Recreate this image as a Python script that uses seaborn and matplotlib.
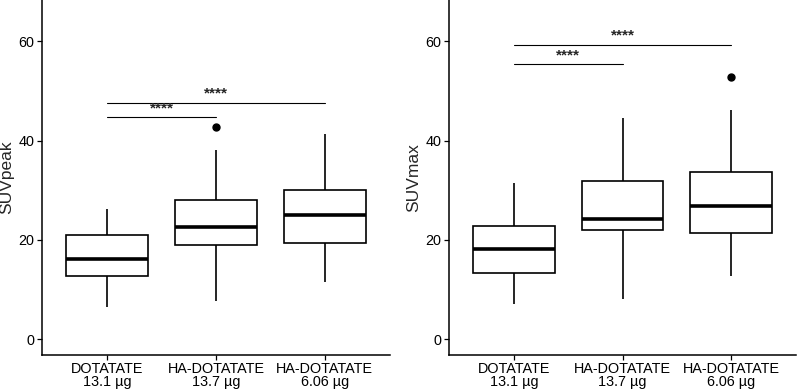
import numpy as np
import pandas as pd
import seaborn as sns
import matplotlib
matplotlib.use("Agg")
import matplotlib.pyplot as plt

# groups (x categories)
groups = ["DOTATATE\n13.1 µg", "HA-DOTATATE\n13.7 µg", "HA-DOTATATE\n6.06 µg"]

suvpeak_dotatate = [6.4, 10.5, 12.8, 14.5, 16.1, 18.5, 20.9, 23.5, 26.2]
suvpeak_ha137 = [7.6, 14.0, 18.95, 20.5, 22.5, 25.0, 27.95, 38.1, 42.7]
suvpeak_ha606 = [11.6, 16.0, 19.35, 22.0, 25.05, 27.5, 30.1, 35.0, 41.25]

# SUVmax samples per group
suvmax_dotatate = [7.1, 10.5, 13.4, 16.0, 18.2, 20.5, 22.85, 27.0, 31.45]
suvmax_ha137 = [8.05, 15.0, 21.9, 23.0, 24.25, 28.0, 31.8, 38.0, 44.55]
suvmax_ha606 = [12.7, 17.0, 21.3, 24.0, 26.9, 30.0, 33.7, 46.2, 52.8]

# significance brackets: (group a, group b, y, label)
peak_brackets = [(0, 1, 44.7, "****"), (0, 2, 47.6, "****")]
max_brackets = [(0, 1, 55.4, "****"), (0, 2, 59.3, "****")]


def make_df(values_list):
    rows = []
    for g, vals in zip(groups, values_list):
        for v in vals:
            rows.append({"group": g, "value": v})
    return pd.DataFrame(rows)


def draw_panel(ax, df, ylabel, brackets):
    sns.boxplot(data=df, x="group", y="value", order=groups, ax=ax,
                color="white", linecolor="black", linewidth=1.2, width=0.75,
                whis=1.5, showcaps=False,
                medianprops={"linewidth": 2.6, "color": "black"},
                flierprops={"marker": "o", "markerfacecolor": "black",
                            "markeredgecolor": "black", "markersize": 5})
    for a, b, y, lab in brackets:
        ax.plot([a, b], [y, y], color="black", lw=0.8)
        ax.text((a + b) / 2, y + 0.4, lab, ha="center", va="bottom",
                fontsize=11, fontweight="bold")
    ax.set_xlim(-0.6, 2.6)
    ax.set_ylim(-3.2, 68.3)
    ax.set_yticks([0, 20, 40, 60])
    ax.set_xlabel("")
    ax.set_ylabel(ylabel, fontsize=12.5, labelpad=3)
    for s in ["top", "right"]:
        ax.spines[s].set_visible(False)
    for s in ["left", "bottom"]:
        ax.spines[s].set_linewidth(1.1)
        ax.spines[s].set_color("black")
    ax.tick_params(axis="both", bottom=True, left=True, length=3.5, width=0.9,
                   color="black", labelsize=10.4, labelcolor="black", pad=2)
    ax.tick_params(axis="x", pad=1.5)
    for lab in ax.get_xticklabels():
        lab.set_linespacing(0.92)


sns.set_theme(style="white")
plt.rcParams["font.family"] = ["Liberation Sans", "DejaVu Sans"]

fig = plt.figure(figsize=(7.97, 3.91), dpi=100)
ax1 = fig.add_axes([42 / 797, 36 / 391, 348 / 797, 355 / 391])
ax2 = fig.add_axes([449 / 797, 36 / 391, 347 / 797, 355 / 391])

draw_panel(ax1, make_df([suvpeak_dotatate, suvpeak_ha137, suvpeak_ha606]),
           "SUVpeak", peak_brackets)
draw_panel(ax2, make_df([suvmax_dotatate, suvmax_ha137, suvmax_ha606]),
           "SUVmax", max_brackets)

fig.savefig("out.png", dpi=100, facecolor="white")
